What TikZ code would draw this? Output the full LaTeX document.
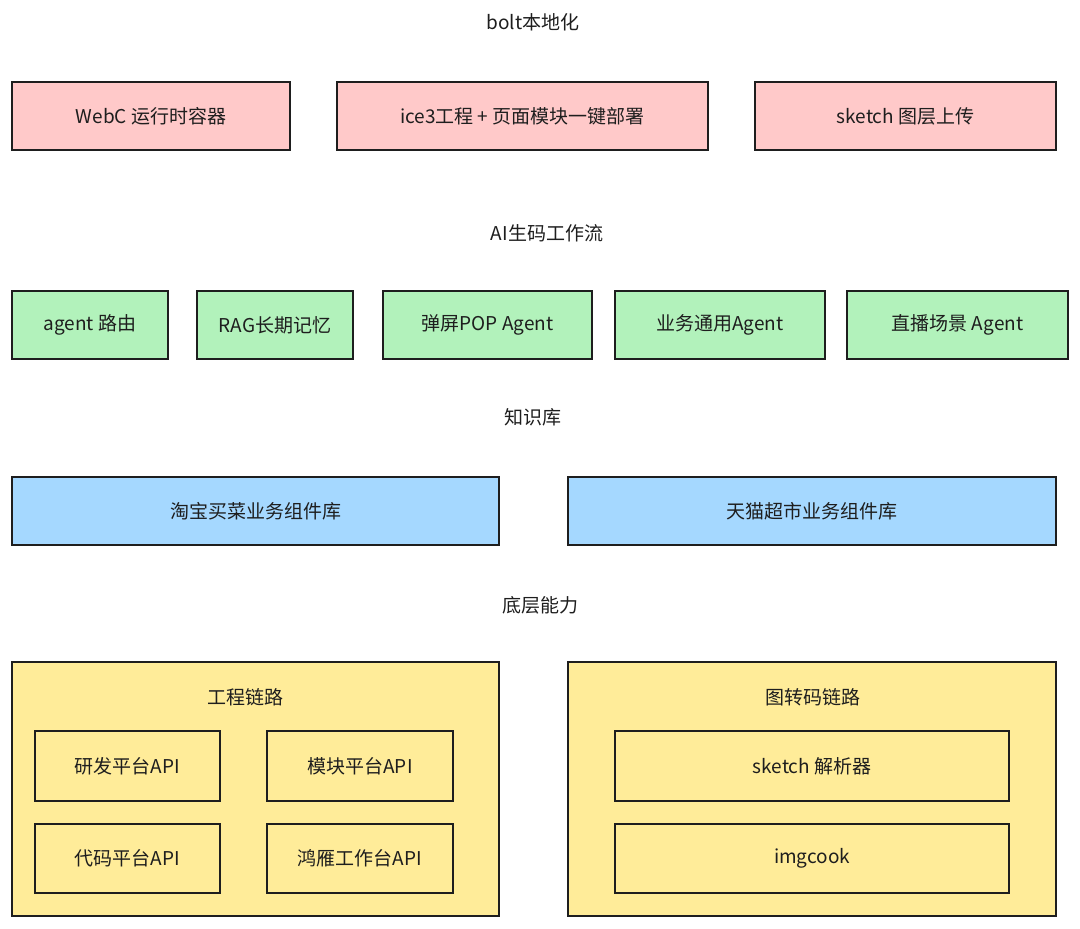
\documentclass[tikz,border=0pt]{standalone}
\usepackage{fontspec}
\setmainfont{Noto Sans CJK SC}
\definecolor{pk}{HTML}{FFC9C9}
\definecolor{gr}{HTML}{B2F2BB}
\definecolor{bl}{HTML}{A5D8FF}
\definecolor{yl}{HTML}{FFEC99}
\definecolor{ink}{HTML}{1E1E1E}
\begin{document}
\begin{tikzpicture}[x=1pt,y=-1pt,
  box/.style={draw=ink,line width=1.3pt},
  lbl/.style={font=\fontsize{19}{22}\selectfont,text=ink},
  ttl/.style={font=\fontsize{19}{22}\selectfont,text=ink}]
\useasboundingbox[fill=white] (0,0) rectangle (1080,929);
\newcommand{\bx}[6]{\draw[box,fill=#5] (#1,#2) rectangle (#3,#4); \node[lbl] at ({(#1+#3)/2},{(#2+#4)/2}) {#6};}
\node[ttl] (t1) at (533,22) {bolt本地化};
\bx{12}{82}{290}{150}{pk}{WebC 运行时容器}
\bx{337}{82}{708}{150}{pk}{ice3工程 + 页面模块一键部署}
\bx{755}{82}{1056}{150}{pk}{sketch 图层上传}
\node[ttl] (t2) at (547,233) {AI生码工作流};
\bx{12}{291}{168}{359}{gr}{agent 路由}
\bx{197}{291}{353}{359}{gr}{RAG长期记忆}
\bx{383}{291}{592}{359}{gr}{弹屏POP Agent}
\bx{615}{291}{825}{359}{gr}{业务通用Agent}
\bx{847}{291}{1068}{359}{gr}{直播场景 Agent}
\node[ttl] (t3) at (533,417) {知识库};
\bx{12}{477}{499}{545}{bl}{淘宝买菜业务组件库}
\bx{568}{477}{1056}{545}{bl}{天猫超市业务组件库}
\node[ttl] (t4) at (540,605) {底层能力};
\draw[box,fill=yl] (12,662) rectangle (499,916);
\draw[box,fill=yl] (568,662) rectangle (1056,916);
\node[ttl] (g1) at (245,697) {工程链路};
\node[ttl] (g2) at (813,697) {图转码链路};
\bx{35}{731}{220}{801}{yl}{研发平台API}
\bx{267}{731}{453}{801}{yl}{模块平台API}
\bx{35}{824}{220}{893}{yl}{代码平台API}
\bx{267}{824}{453}{893}{yl}{鸿雁工作台API}
\bx{615}{731}{1009}{801}{yl}{sketch 解析器}
\bx{615}{824}{1009}{893}{yl}{imgcook}
\end{tikzpicture}
\end{document}
